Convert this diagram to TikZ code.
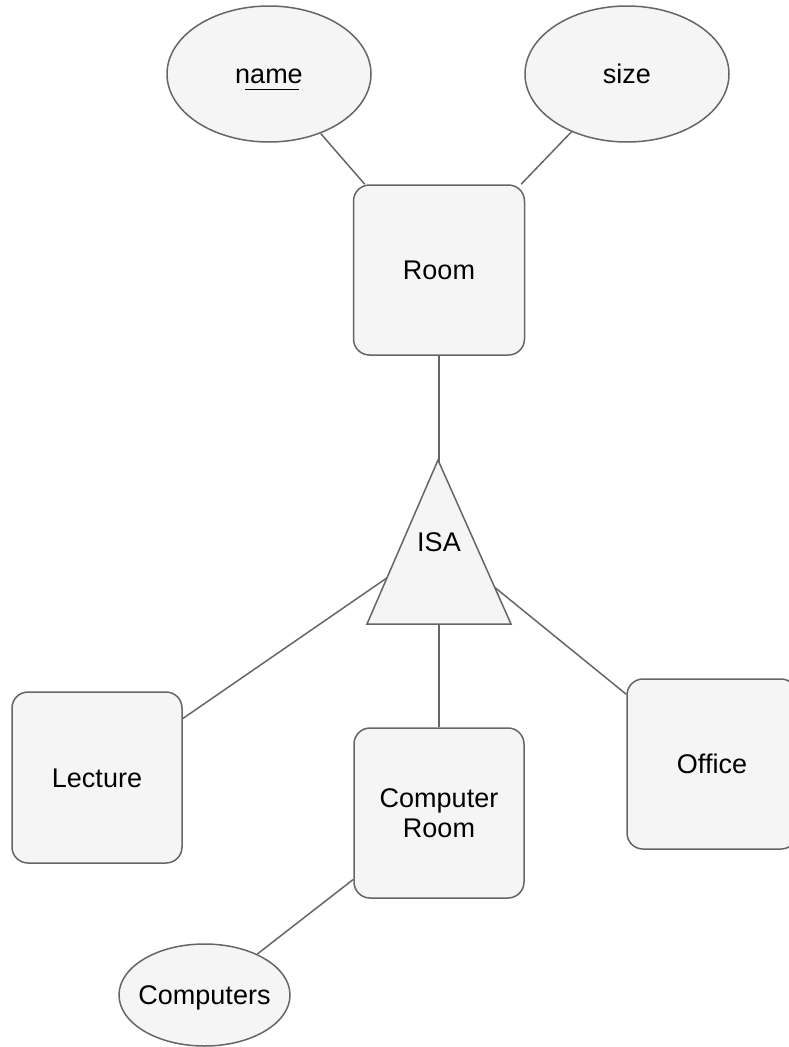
\documentclass[tikz,border=0pt]{standalone}
\usepackage{fontspec}
\setmainfont{Liberation Sans}
\usetikzlibrary{shapes.geometric,backgrounds}
\definecolor{erfill}{HTML}{F5F5F5}
\definecolor{erline}{HTML}{666666}

\begin{document}
\begin{tikzpicture}[x=0.75pt,y=-0.75pt,
  label font/.style={font=\fontsize{20.25pt}{22.5pt}\selectfont,text=black},
  base/.style={draw=erline,fill=erfill,line width=1.125pt,label font,inner sep=0pt},
  oneline/.style={text height=14.5pt,text depth=0pt},
  entity/.style={base,rectangle,rounded corners=12pt,minimum width=127.5pt,minimum height=127.5pt},
  attr/.style={base,ellipse,oneline},
  link/.style={draw=erline,line width=1.125pt}]

\useasboundingbox (0,0) rectangle (789,1047);

% attributes of Room
\node[attr,minimum width=153pt,minimum height=102pt] (name) at (269,74)
  {\makebox[0pt][l]{\hspace{7.5pt}\rule[-5pt]{40.5pt}{1.1pt}}name};
\node[attr,minimum width=153pt,minimum height=102pt] (size) at (627,74) {size};

% entities
\node[entity,oneline,minimum width=128.25pt] (room) at (439,270) {Room};
\node[entity,oneline,minimum height=128.25pt] (lecture) at (97,777.5) {Lecture};
\node[entity,align=center] (croom) at (439,813) {Computer\\Room};
\node[entity,oneline] (office) at (712,764) {Office};

% ISA triangle
\filldraw[draw=erline,fill=erfill,line width=1.125pt,line join=miter]
  (438,460) -- (511,624) -- (367,624) -- cycle;
\node[label font,oneline,inner sep=0pt] (isa) at (439,542) {ISA};

% attribute of Computer Room (text kept out of the ellipse sizing)
\node[attr,minimum width=128.25pt,minimum height=76.5pt] (computers) at (204.5,995)
  {\makebox[0pt]{Computers}};

% connectors
\begin{scope}[on background layer]
  \draw[link] (name) -- (room);
  \draw[link] (size) -- (room);
  \draw[link] (room) -- (isa.center);
  \draw[link] (isa.center) -- (lecture);
  \draw[link] (isa.center) -- (croom);
  \draw[link] (isa.center) -- (office);
  \draw[link] (croom) -- (computers);
\end{scope}
\end{tikzpicture}
\end{document}
